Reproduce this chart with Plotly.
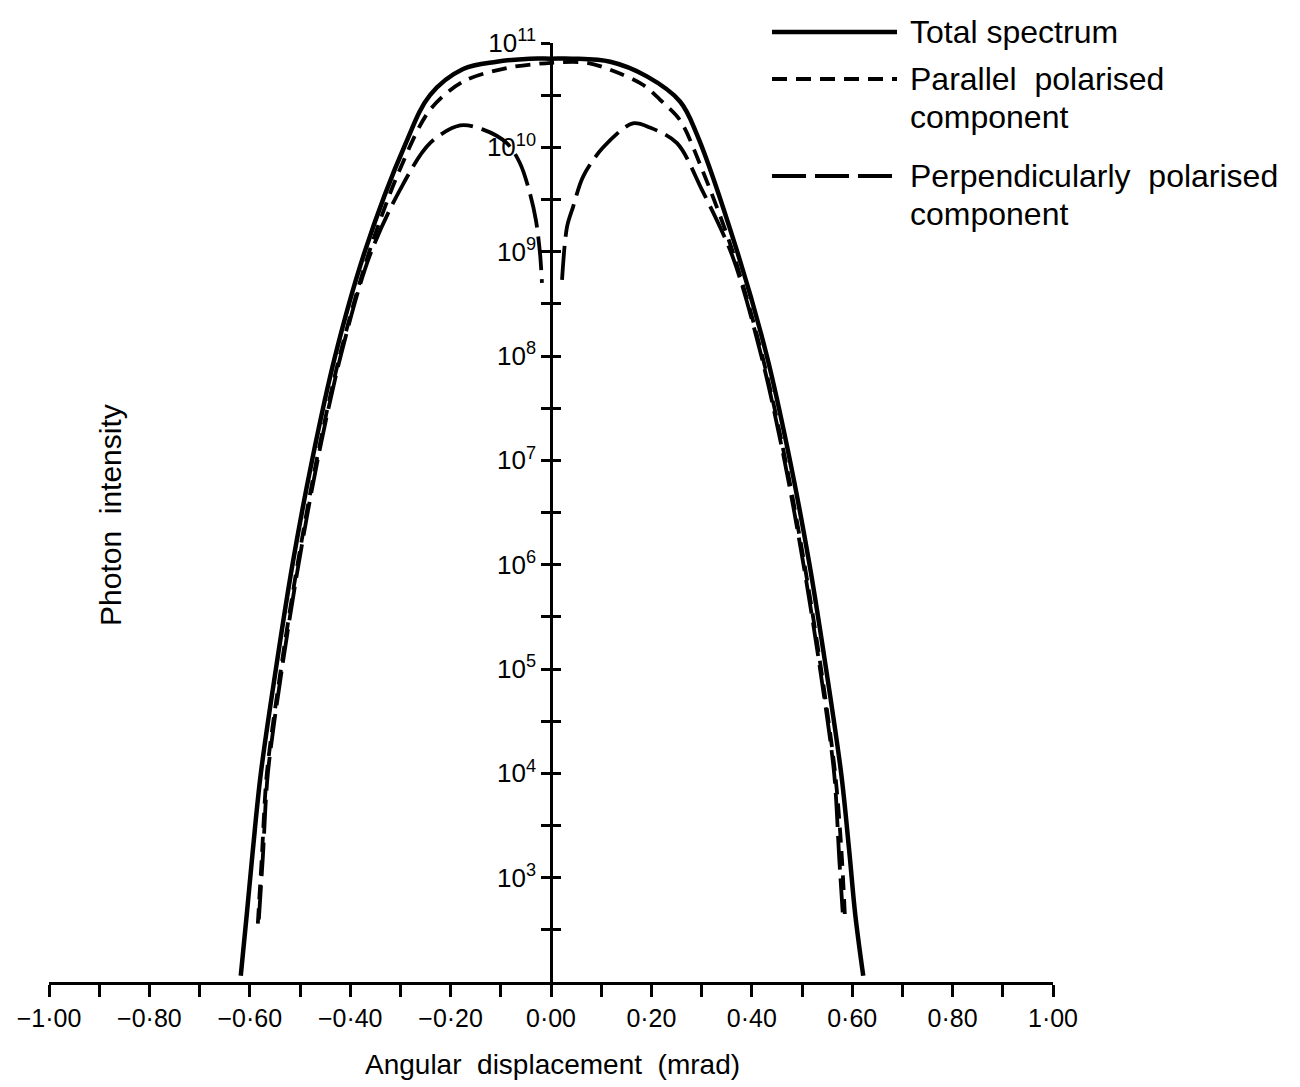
import plotly.graph_objects as go

# ---------------- data ----------------
# angular displacement (mrad) and log10(photon intensity)
total_x = [-0.618, -0.606, -0.594, -0.578, -0.548, -0.515, -0.476, -0.430, -0.371,
           -0.291, -0.241, -0.175, -0.108, -0.042, 0.0, 0.042, 0.118, 0.191, 0.257,
           0.291, 0.371, 0.430, 0.476, 0.515, 0.548, 0.578, 0.594, 0.606, 0.622]
total_log = [2.06, 2.65, 3.26, 4.0, 5.0, 6.0, 7.0, 8.0, 9.0,
             10.02, 10.5, 10.75, 10.82, 10.85, 10.85, 10.85, 10.82, 10.68, 10.44,
             10.12, 9.0, 8.0, 7.0, 6.0, 5.0, 4.0, 3.26, 2.65, 2.06]

parallel_x = [-0.584, -0.576, -0.566, -0.538, -0.505, -0.467, -0.421, -0.362, -0.300,
              -0.241, -0.175, -0.088, 0.0, 0.072, 0.131, 0.183, 0.223, 0.257, 0.300,
              0.362, 0.421, 0.467, 0.505, 0.538, 0.566, 0.578, 0.586]
parallel_log = [2.56, 3.2, 4.0, 5.0, 6.0, 7.0, 8.0, 9.0, 9.8,
                10.36, 10.63, 10.76, 10.81, 10.81, 10.72, 10.60, 10.43, 10.26, 9.8,
                9.0, 8.0, 7.0, 6.0, 5.0, 4.0, 3.3, 2.58]

perp_x = [-0.582, -0.574, -0.564, -0.536, -0.503, -0.465, -0.419, -0.362, -0.300,
          -0.241, -0.181, -0.135, -0.088, -0.062, -0.042, -0.030, -0.022, -0.018,
          None,
          0.022, 0.032, 0.044, 0.064, 0.104, 0.163, 0.197, 0.251, 0.300, 0.362,
          0.419, 0.465, 0.503, 0.536, 0.564, 0.574, 0.582]
perp_log = [2.6, 3.2, 4.0, 5.0, 6.0, 7.0, 8.0, 8.95, 9.6,
            10.04, 10.21, 10.17, 10.04, 9.85, 9.56, 9.30, 8.99, 8.70,
            None,
            8.73, 9.24, 9.43, 9.72, 10.00, 10.23, 10.19, 10.04, 9.6, 8.95,
            8.0, 7.0, 6.0, 5.0, 4.0, 3.2, 2.6]

series_names = ["Total spectrum", "Parallel  polarised", "Perpendicularly  polarised"]
legend_second_line = ["", "component", "component"]

x_tick_values = [round(-1.0 + 0.1 * i, 1) for i in range(21)]
x_tick_labels = ["−1·00", "", "−0·80", "", "−0·60", "", "−0·40", "", "−0·20", "",
                 "0·00", "", "0·20", "", "0·40", "", "0·60", "", "0·80", "", "1·00"]
y_decades = [3, 4, 5, 6, 7, 8, 9, 10, 11]

# ---------------- layout geometry (pixels) ----------------
W, H = 1300, 1087
L, R, T, B = 49, 1053, 43, 982   # plot area edges


def px(xp):
    return (xp - L) / (R - L)


def py(yp):
    return (B - yp) / (B - T)


def pow10(vals):
    return [None if v is None else 10 ** v for v in vals]


FONT = "Liberation Sans, Arial, sans-serif"
fig = go.Figure()

fig.add_trace(go.Scatter(x=total_x, y=pow10(total_log), mode="lines",
                         line=dict(color="black", width=4.5, shape="spline", smoothing=1.0),
                         showlegend=False, hoverinfo="skip"))
fig.add_trace(go.Scatter(x=parallel_x, y=pow10(parallel_log), mode="lines",
                         line=dict(color="black", width=3.8, dash="15px,9px",
                                   shape="spline", smoothing=0.9),
                         showlegend=False, hoverinfo="skip"))
fig.add_trace(go.Scatter(x=perp_x, y=pow10(perp_log), mode="lines", connectgaps=False,
                         line=dict(color="black", width=3.8, dash="34px,9px",
                                   shape="spline", smoothing=0.9),
                         showlegend=False, hoverinfo="skip"))
# dummy trace on overlay axis so it is drawn
fig.add_trace(go.Scatter(x=[0], y=[1e5], yaxis="y2", mode="markers",
                         marker=dict(opacity=0), showlegend=False, hoverinfo="skip"))

y_tickvals = [10 ** (k / 2) for k in range(5, 23)]
y_ticktext = []
for k in range(5, 23):
    if k % 2 == 0 and (k // 2) in y_decades:
        y_ticktext.append("10<sup>%d</sup>" % (k // 2))
    else:
        y_ticktext.append("")

fig.update_layout(
    width=W, height=H,
    margin=dict(l=L, r=W - R, t=T, b=H - B),
    paper_bgcolor="white", plot_bgcolor="white",
    font=dict(family=FONT, color="black", size=25),
    xaxis=dict(range=[-1, 1], domain=[0, 1], showgrid=False, zeroline=False,
               showline=True, linecolor="black", linewidth=2.5,
               ticks="outside", ticklen=12, tickwidth=2.5, tickcolor="black",
               tickvals=x_tick_values, ticktext=x_tick_labels,
               tickfont=dict(size=25, family=FONT), ticklabelstandoff=0),
    yaxis=dict(type="log", range=[2, 11], showgrid=False, zeroline=False,
               anchor="free", position=0.5, showline=True, linecolor="black",
               linewidth=2.5, ticks="outside", ticklen=9, tickwidth=2.5,
               tickcolor="black", tickvals=y_tickvals, ticktext=y_ticktext,
               tickfont=dict(size=26, family=FONT)),
    yaxis2=dict(type="log", range=[2, 11], overlaying="y", anchor="free",
                position=0.5, showgrid=False, zeroline=False, showline=False,
                ticks="inside", ticklen=9, tickwidth=2.5, tickcolor="black",
                tickvals=y_tickvals, showticklabels=False),
)

# axis titles
fig.add_annotation(text="Angular  displacement  (mrad)", xref="paper", yref="paper",
                   x=px(552), y=py(1064), showarrow=False, xanchor="center",
                   yanchor="middle", font=dict(size=28, family=FONT))
fig.add_annotation(text="Photon  intensity", xref="paper", yref="paper",
                   x=px(110), y=py(515), showarrow=False, textangle=-90,
                   xanchor="center", yanchor="middle", font=dict(size=30, family=FONT))

# legend (drawn manually)
legend_rows = [32, 79, 176]
legend_dash = ["solid", "15px,9px", "34px,9px"]
legend_width = [4.5, 3.8, 3.8]
for i in range(3):
    yy = legend_rows[i]
    fig.add_shape(type="line", xref="paper", yref="paper",
                  x0=px(772), x1=px(897), y0=py(yy), y1=py(yy),
                  line=dict(color="black", width=legend_width[i], dash=legend_dash[i]))
    fig.add_annotation(text=series_names[i], xref="paper", yref="paper",
                       x=px(908), y=py(yy), xanchor="left", yanchor="middle",
                       showarrow=False, font=dict(size=32, family=FONT))
    if legend_second_line[i]:
        fig.add_annotation(text=legend_second_line[i], xref="paper", yref="paper",
                           x=px(908), y=py(yy + 38), xanchor="left", yanchor="middle",
                           showarrow=False, font=dict(size=32, family=FONT))

fig.write_html("out.html")
